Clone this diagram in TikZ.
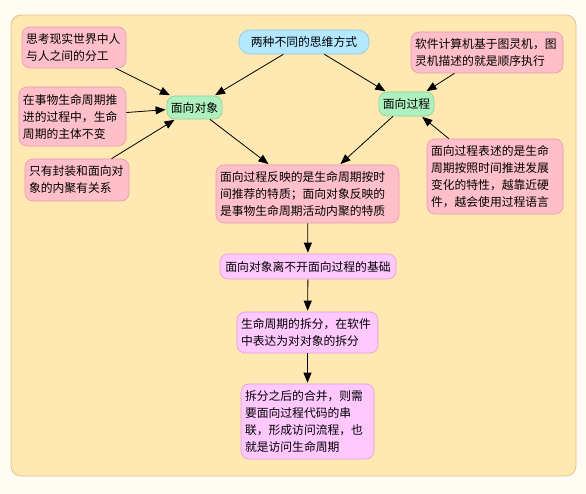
\documentclass[tikz,border=0pt]{standalone}
\usepackage{fontspec}
\setmainfont{Noto Sans CJK SC}
\usetikzlibrary{arrows.meta}
\definecolor{pagebg}{HTML}{FFFCF4}
\definecolor{panelfill}{HTML}{FFE8B2}
\definecolor{paneldraw}{HTML}{E2C48A}
\definecolor{pinkfill}{HTML}{FFBFCA}
\definecolor{pinkdraw}{HTML}{E79BAA}
\definecolor{greenfill}{HTML}{AFF0BF}
\definecolor{greendraw}{HTML}{86CF98}
\definecolor{bluefill}{HTML}{B3E8FF}
\definecolor{bluedraw}{HTML}{86C7E6}
\definecolor{violetfill}{HTML}{FFC8FF}
\definecolor{violetdraw}{HTML}{DDA0D6}
\tikzset{
  box/.style={draw, rounded corners=8pt, inner xsep=4pt, inner ysep=4pt, line width=0.6pt,
    font=\fontsize{11.8}{17}\selectfont, text=black},
  pinkbox/.style={box, fill=pinkfill, draw=pinkdraw, align=left},
  greenbox/.style={box, fill=greenfill, draw=greendraw, align=center},
  bluebox/.style={box, fill=bluefill, draw=bluedraw, align=center, rounded corners=11pt},
  violetbox/.style={box, fill=violetfill, draw=violetdraw, align=left},
  conn/.style={-{Triangle[length=10pt,width=8pt]}, line width=0.8pt, black, shorten >=1pt}
}
\begin{document}
\begin{tikzpicture}[x=1pt,y=-1pt]
\useasboundingbox (0,0) rectangle (586,494);
\fill[pagebg] (0,0) rectangle (586,494);
\draw[fill=panelfill, draw=paneldraw, line width=0.8pt, rounded corners=10pt] (11,15) rectangle (576,476);

\node[bluebox, minimum width=130pt, minimum height=24pt] (two) at (304,42) {两种不同的思维方式};
\node[pinkbox, text width=96pt, minimum height=41pt] (think) at (74,47.5) {思考现实世界中人\\与人之间的分工};
\node[pinkbox, text width=99pt, minimum height=59pt] (life) at (72.5,116.5) {在事物生命周期推\\进的过程中，生命\\周期的主体不变};
\node[pinkbox, text width=96pt, minimum height=42pt] (only) at (77,180) {只有封装和面向对\\象的内聚有关系};
\node[greenbox, minimum width=55pt, minimum height=23pt] (oo) at (194.5,107.5) {面向对象};
\node[greenbox, minimum width=55pt, minimum height=24pt] (po) at (406.5,104) {面向过程};
\node[pinkbox, text width=144pt, minimum height=41pt] (soft) at (487,52.5) {软件计算机基于图灵机，图\\灵机描述的就是顺序执行};
\node[pinkbox, text width=128pt, minimum height=75pt] (desc) at (495,176.5) {面向过程表述的是生命\\周期按照时间推进发展\\变化的特性，越靠近硬\\件，越会使用过程语言};
\node[pinkbox, text width=175pt, minimum height=58pt] (mid) at (307.5,194) {面向过程反映的是生命周期按时\\间推荐的特质；面向对象反映的\\是事物生命周期活动内聚的特质};
\node[violetbox, align=center, minimum width=176pt, minimum height=25pt] (base) at (308,266.5) {面向对象离不开面向过程的基础};
\node[violetbox, text width=133pt, minimum height=41pt] (split) at (307.5,332.5) {生命周期的拆分，在软件\\中表达为对对象的拆分};
\node[violetbox, text width=125pt, minimum height=75pt] (merge) at (307.5,421.5) {拆分之后的合并，则需\\要面向过程代码的串\\联，形成访问流程，也\\就是访问生命周期};

\draw[conn] (think) -- (oo);
\draw[conn] (life) -- (oo);
\draw[conn] (only) -- (oo);
\draw[conn] (two) -- (oo);
\draw[conn] (two) -- (po);
\draw[conn] (soft) -- (po);
\draw[conn] (desc) -- (po);
\draw[conn] (oo) -- (mid);
\draw[conn] (po) -- (mid);
\draw[conn] (mid) -- (base);
\draw[conn] (base) -- (split);
\draw[conn] (split) -- (merge);
\end{tikzpicture}
\end{document}
